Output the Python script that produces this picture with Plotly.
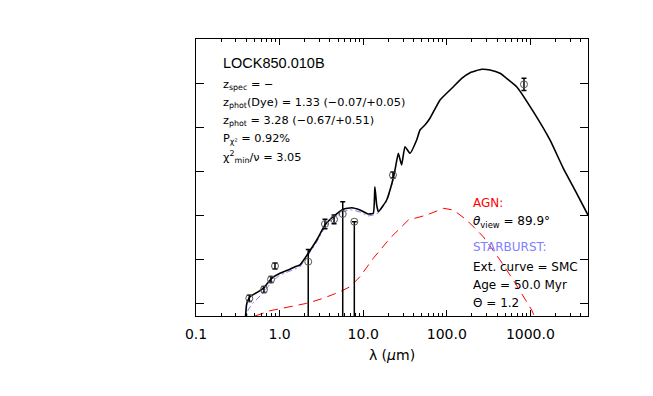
import plotly.graph_objects as go

# SED of LOCK850.010B -- wavelengths in micron, y in log flux units (arbitrary, no labels on the plot)
tot_lam = [0.385, 0.402, 0.419, 0.443, 0.523, 0.638, 0.805, 1.01, 1.33, 1.53, 1.75, 2.20, 2.78, 3.49,
           4.39, 5.78, 7.28, 9.16, 11.4, 13.2, 13.8, 14.5, 15.2, 19.1, 22.1, 24.0, 26.3, 28.8, 31.6,
           36.3, 43.6, 47.8, 54.8, 62.9, 83.0, 120, 152, 190, 261, 329, 433, 540, 685, 1084, 1714, 2476, 3413, 4887]
tot_y = [-0.5, -0.045, 0.068, 0.143, 0.227, 0.334, 0.561, 0.675, 0.766, 0.825, 0.864, 1.130, 1.432, 1.773,
         1.961, 2.130, 2.166, 2.114, 2.023, 2.039, 2.643, 2.227, 2.075, 2.341, 2.727, 3.023, 3.402, 3.136, 3.552,
         3.402, 3.705, 3.932, 4.045, 4.198, 4.614, 4.916, 5.11, 5.234, 5.311, 5.295, 5.220, 5.08, 4.916, 4.348,
         3.705, 3.061, 2.568, 2.0]

sb_lam = [0.39, 0.419, 0.468, 0.552, 0.650, 0.799, 1.01, 1.33, 1.75, 2.20, 2.78, 3.49, 4.39, 5.78, 7.28,
          9.16, 11.4, 13.2, 15.2, 19.1, 22.1, 24.0]
sb_y = [-0.5, -0.159, -0.023, 0.114, 0.25, 0.477, 0.636, 0.727, 0.818, 1.09, 1.386, 1.727, 1.916, 2.084, 2.12,
        2.068, 1.977, 2.0, 2.045, 2.307, 2.69, 2.977]

agn_lam = [0.508, 0.767, 1.33, 2.11, 3.33, 5.28, 6.95, 9.16, 13.2, 20.9, 34.7, 57.5, 90.8, 120, 173, 273,
           433, 624, 1037, 1167]
agn_y = [-0.295, -0.175, -0.084, -0.007, 0.107, 0.257, 0.370, 0.598, 1.016, 1.470, 1.886, 2.0, 2.152, 2.114,
         1.886, 1.507, 0.977, 0.523, -0.159, -0.386]

obs_lam = [0.434, 0.650, 0.789, 0.881, 2.20, 3.49, 4.48, 5.69, 7.83, 22.7, 838]
obs_y = [0.107, 0.307, 0.534, 0.841, 0.939, 1.795, 1.902, 2.023, 1.848, 2.909, 4.97]
obs_up = [0.07, 0.07, 0.07, 0.07, 0.28, 0.11, 0.10, 0.28, 0.0, 0.07, 0.14]
obs_dn = [0.07, 0.07, 0.07, 0.07, 2.0, 0.11, 0.10, 2.5, 2.5, 0.07, 0.14]

xtick_vals = [0.1, 1, 10, 100, 1000]
xtick_text = ["0.1", "1.0", "10.0", "100.0", "1000.0"]

left_lines = ["z<sub>spec</sub> = \u2212",
              "z<sub>phot</sub>(Dye) = 1.33 (\u22120.07/+0.05)",
              "z<sub>phot</sub> = 3.28 (\u22120.67/+0.51)",
              "P<sub>\u03c7\u00b2</sub> = 0.92%",
              "\u03c7<sup>2</sup><sub>min</sub>/\u03bd = 3.05"]
right_lines = [("AGN:", "red"),
               ("<i>\u03b8</i><sub>view</sub> = 89.9\u00b0", "black"),
               ("STARBURST:", "#8080ff"),
               ("Ext. curve = SMC", "black"),
               ("Age = 50.0 Myr", "black"),
               ("\u0398 = 1.2", "black")]

fig = go.Figure()
fig.add_trace(go.Scatter(x=sb_lam, y=sb_y, mode="lines",
                         line=dict(color="#8080ff", width=1, dash="6px,3px,2px,3px")))
fig.add_trace(go.Scatter(x=agn_lam, y=agn_y, mode="lines", line=dict(color="red", width=1, dash="9px,6px")))
fig.add_trace(go.Scatter(x=tot_lam, y=tot_y, mode="lines", line=dict(color="black", width=1.6, shape="spline",
                                                                     smoothing=0.4)))
fig.add_trace(go.Scatter(x=obs_lam, y=obs_y, mode="markers",
                         marker=dict(symbol="circle-open", size=7, color="#555", line=dict(width=1)),
                         error_y=dict(type="data", array=obs_up, arrayminus=obs_dn, color="black",
                                      thickness=1.5, width=2.5)))

fnt = "Liberation Sans, Arial, sans-serif"
wide = "DejaVu Sans, Verdana, sans-serif"
fig.add_annotation(x=(221 - 196) / 392, y=(316 - 63) / 277, xref="paper", yref="paper", text="LOCK850.010B",
                   showarrow=False, xanchor="left", yanchor="middle", font=dict(size=14.5, color="black", family=fnt))
for i, t in enumerate(left_lines):
    py = 85 + i * 18
    fig.add_annotation(x=(221 - 196) / 392, y=(316 - py) / 277, xref="paper", yref="paper", text=t,
                       showarrow=False, xanchor="left", yanchor="middle",
                       font=dict(size=11.3, color="black", family=wide))
for i, (t, c) in enumerate(right_lines):
    py = [203, 222, 247, 267, 285, 303][i]
    fig.add_annotation(x=(471 - 196) / 392, y=(316 - py) / 277, xref="paper", yref="paper", text=t,
                       showarrow=False, xanchor="left", yanchor="middle",
                       font=dict(size=12, color=c, family=wide))

fig.update_xaxes(type="log", range=[-1, 3.689], tickvals=xtick_vals, ticktext=xtick_text,
                 ticks="inside", ticklen=6, tickcolor="black", showline=True, linecolor="black", linewidth=1,
                 mirror="allticks", showgrid=False, zeroline=False, ticklabelstandoff=5,
                 minor=dict(ticks="inside", ticklen=3, tickcolor="black", dtick="D1", showgrid=False),
                 title=dict(text="\u03bb (<i>\u03bc</i>m)", font=dict(size=14, family=wide), standoff=9),
                 tickfont=dict(size=14, family=wide, color="black"))
fig.update_yaxes(range=[-0.295, 6.0], tickvals=[0, 1, 2, 3, 4, 5], showticklabels=False,
                 ticks="inside", ticklen=8, tickcolor="black", showline=True, linecolor="black", linewidth=1,
                 mirror="allticks", showgrid=False, zeroline=False)
# page body adds ~8px offset, so margins are trimmed by that amount
fig.update_layout(width=653, height=396, margin=dict(l=188, r=73, t=31, b=88),
                  plot_bgcolor="white", paper_bgcolor="white", showlegend=False,
                  font=dict(family=fnt, color="black"))
fig.write_html("out.html")
